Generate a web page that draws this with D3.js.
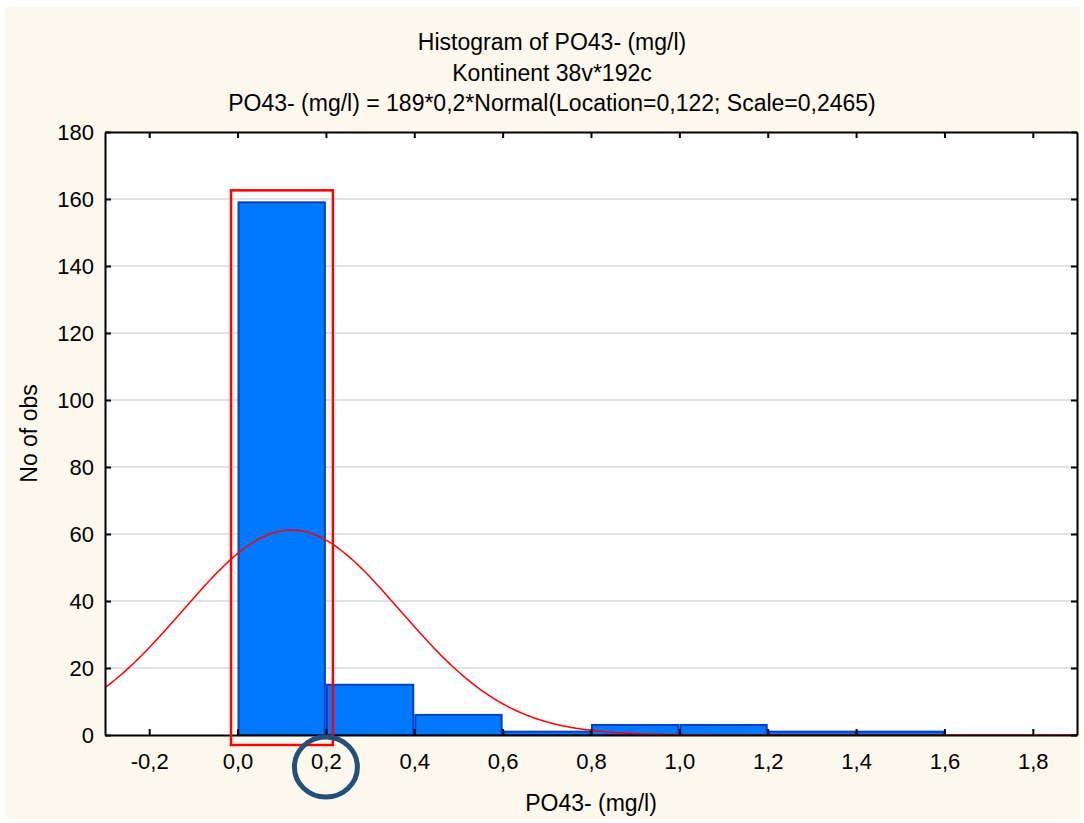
<!DOCTYPE html>
<html>
<head>
<meta charset="utf-8">
<script src="https://cdn.jsdelivr.net/npm/d3@7"></script>
<style>
  html, body { margin: 0; padding: 0; background: #ffffff; }
  svg { display: block; font-family: "Liberation Sans", Arial, sans-serif; }
</style>
</head>
<body>
<svg id="chart" width="1084" height="823"></svg>
<script>
// ---- data ----
const titleLines = [
  "Histogram of PO43- (mg/l)",
  "Kontinent 38v*192c",
  "PO43- (mg/l) = 189*0,2*Normal(Location=0,122; Scale=0,2465)"
];
const xAxisTitle = "PO43- (mg/l)";
const yAxisTitle = "No of obs";
const binStarts = [0.0, 0.2, 0.4, 0.6, 0.8, 1.0, 1.2, 1.4];
const binWidth = 0.2;
const counts = [159, 15, 6, 1, 3, 3, 1, 1];
const xTicks = [-0.2, 0.0, 0.2, 0.4, 0.6, 0.8, 1.0, 1.2, 1.4, 1.6, 1.8];
const yTicks = [0, 20, 40, 60, 80, 100, 120, 140, 160, 180];
// fitted normal curve parameters (as stated in the chart subtitle)
const fitN = 189;
const fitLocation = 0.122;
const fitScale = 0.2465;
// annotations: highlight box around first bin, circle around the 0,2 tick label
const highlightBin = 0;
const circledTick = 0.2;

// ---- layout ----
const svg = d3.select("#chart");
const W = 1084, H = 823;
const plot = { left: 105, right: 1077, top: 132, bottom: 735 };
const FONT = "'Liberation Sans', Arial, sans-serif";

svg.append("rect").attr("x", 5).attr("y", 7).attr("width", W - 9).attr("height", H - 11)
  .attr("fill", "#fdf8ed");

const x = d3.scaleLinear().domain([-0.3, 1.9]).range([plot.left, plot.right]);
const y = d3.scaleLinear().domain([0, 180]).range([plot.bottom, plot.top]);
const fmt = v => d3.format(".1f")(v).replace(".", ",").replace("−", "-");

// plot background
svg.append("rect").attr("x", plot.left).attr("y", plot.top)
  .attr("width", plot.right - plot.left).attr("height", plot.bottom - plot.top)
  .attr("fill", "#ffffff");

// gridlines
svg.append("g").selectAll("line").data(yTicks.filter(t => t > 0 && t < 180)).join("line")
  .attr("x1", plot.left).attr("x2", plot.right)
  .attr("y1", d => y(d)).attr("y2", d => y(d))
  .attr("stroke", "#d9d9d9").attr("stroke-width", 1.5);

// bars
svg.append("g").selectAll("rect").data(binStarts.map((s, i) => ({ s, c: counts[i] }))).join("rect")
  .attr("x", d => x(d.s) + 1)
  .attr("y", d => y(d.c))
  .attr("width", d => x(d.s + binWidth) - x(d.s) - 2)
  .attr("height", d => y(0) - y(d.c))
  .attr("fill", "#0078ff")
  .attr("stroke", "#0a40c0")
  .attr("stroke-width", 2);

// fitted normal curve
const clipId = "plotclip";
svg.append("clipPath").attr("id", clipId).append("rect")
  .attr("x", plot.left).attr("y", plot.top)
  .attr("width", plot.right - plot.left).attr("height", plot.bottom - plot.top);
const curveXs = d3.range(0, 441).map(i => -0.3 + i * 0.005);
const density = v => fitN * binWidth * Math.exp(-0.5 * Math.pow((v - fitLocation) / fitScale, 2)) / (fitScale * Math.sqrt(2 * Math.PI));
svg.append("path")
  .datum(curveXs)
  .attr("clip-path", `url(#${clipId})`)
  .attr("d", d3.line().x(d => x(d)).y(d => y(density(d))))
  .attr("fill", "none").attr("stroke", "#ff0000").attr("stroke-width", 1.5);

// axes (ticks inside, mirrored)
const axB = d3.axisBottom(x).tickValues(xTicks).tickSizeInner(-6).tickSizeOuter(0).tickFormat(fmt).tickPadding(18);
const axT = d3.axisTop(x).tickValues(xTicks).tickSizeInner(-6).tickSizeOuter(0).tickFormat("");
const axL = d3.axisLeft(y).tickValues(yTicks).tickSizeInner(-6).tickSizeOuter(0).tickPadding(11);
const axR = d3.axisRight(y).tickValues(yTicks).tickSizeInner(-6).tickSizeOuter(0).tickFormat("");

function style(g) {
  g.select(".domain").attr("stroke", "#000").attr("stroke-width", 2);
  g.selectAll(".tick line").attr("stroke", "#000").attr("stroke-width", 2);
  g.selectAll(".tick text").attr("fill", "#000").attr("font-size", 22)
    .attr("font-family", FONT);
}
svg.append("g").attr("transform", `translate(0,${plot.bottom})`).call(axB).call(style);
svg.append("g").attr("transform", `translate(0,${plot.top})`).call(axT).call(style);
svg.append("g").attr("transform", `translate(${plot.left},0)`).call(axL).call(style);
svg.append("g").attr("transform", `translate(${plot.right},0)`).call(axR).call(style);

// titles
svg.append("g").selectAll("text").data(titleLines).join("text")
  .attr("x", 552).attr("y", (d, i) => [50, 81, 111][i])
  .attr("text-anchor", "middle").attr("font-size", 23).attr("fill", "#000")
  .attr("font-family", FONT)
  .text(d => d);
svg.append("text").attr("x", (plot.left + plot.right) / 2).attr("y", 811).attr("text-anchor", "middle")
  .attr("font-size", 23).attr("fill", "#000").attr("font-family", FONT).text(xAxisTitle);
svg.append("text").attr("transform", `translate(37,${(plot.top + plot.bottom) / 2}) rotate(-90)`)
  .attr("text-anchor", "middle").attr("font-size", 23).attr("fill", "#000")
  .attr("font-family", FONT).text(yAxisTitle);

// annotations
const hb = binStarts[highlightBin];
svg.append("rect")
  .attr("x", x(hb) - 6.5).attr("y", y(counts[highlightBin]) - 12)
  .attr("width", x(hb + binWidth) - x(hb) + 13.5)
  .attr("height", y(0) - y(counts[highlightBin]) + 22)
  .attr("fill", "none").attr("stroke", "#ff0000").attr("stroke-width", 2.5);
svg.append("ellipse")
  .attr("cx", x(circledTick)).attr("cy", plot.bottom + 32)
  .attr("rx", 31.5).attr("ry", 30)
  .attr("fill", "none").attr("stroke", "#22507a").attr("stroke-width", 5);
</script>
</body>
</html>
